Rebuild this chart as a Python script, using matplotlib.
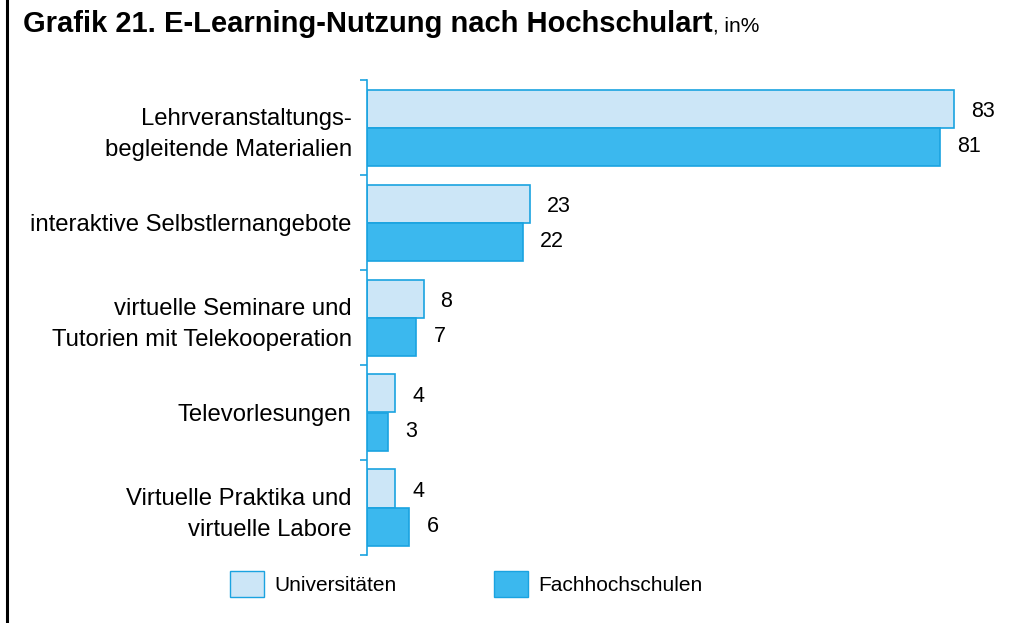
import matplotlib
matplotlib.use("Agg")
import matplotlib.pyplot as plt
from matplotlib.patches import Patch
import numpy as np

plt.rcParams['font.family'] = ['Liberation Sans', 'DejaVu Sans']

# Daten
kategorien = ["Lehrveranstaltungs-\nbegleitende Materialien",
              "interaktive Selbstlernangebote",
              "virtuelle Seminare und\nTutorien mit Telekooperation",
              "Televorlesungen",
              "Virtuelle Praktika und\nvirtuelle Labore"]
universitaeten = [83, 23, 8, 4, 4]
fachhochschulen = [81, 22, 7, 3, 6]

HELL = "#cce6f7"
DUNKEL = "#3bb8ee"
RAND = "#1aa3e0"

W, H = 1019, 623
fig = plt.figure(figsize=(W / 100, H / 100), dpi=100)
ax = fig.add_axes([367 / W, 1 - 555 / H, 1 - 367 / W, (555 - 80) / H])

y = np.arange(len(kategorien)) + 0.5
ax.barh(y - 0.2, universitaeten, height=0.4, color=HELL, edgecolor=RAND, linewidth=1.2)
ax.barh(y + 0.2, fachhochschulen, height=0.4, color=DUNKEL, edgecolor=RAND, linewidth=1.2)

for yi, u, f in zip(y, universitaeten, fachhochschulen):
    ax.text(u + 2.4, yi - 0.17, str(u), va="center", ha="left", fontsize=15.5)
    ax.text(f + 2.4, yi + 0.2, str(f), va="center", ha="left", fontsize=15.5)

ax.set_xlim(0, (W - 367) / 7.07)
ax.set_ylim(len(kategorien), 0)
ax.set_xticks([])
ax.set_yticks(np.arange(len(kategorien) + 1))
ax.set_yticklabels([])
ax.tick_params(axis="y", length=5, color=RAND, width=1.2)
ax.set_yticks(y, minor=True)
ax.set_yticklabels(kategorien, minor=True, fontsize=17.2, linespacing=1.55, ha="right")
ax.tick_params(axis="y", which="minor", length=0, pad=11)
for s in ["top", "right", "bottom"]:
    ax.spines[s].set_visible(False)
ax.spines["left"].set_color(RAND)
ax.spines["left"].set_linewidth(1.2)

# Titel
t = fig.text(23 / W, 1 - 32 / H, "Grafik 21. E-Learning-Nutzung nach Hochschulart",
             fontsize=21, fontweight="bold", va="baseline")
fig.canvas.draw()
bb = t.get_window_extent()
fig.text(bb.x1 / W, 1 - 32 / H, ", in%", fontsize=15, va="baseline")

# Rahmenlinie links
fig.add_artist(plt.Line2D([6.5 / W, 6.5 / W], [0, 1], color="black", linewidth=2.2))

handles = [Patch(facecolor=HELL, edgecolor=RAND, label="Universitäten"),
           Patch(facecolor=DUNKEL, edgecolor=RAND, label="Fachhochschulen")]
fig.legend(handles=handles, loc="center left", bbox_to_anchor=(224 / W, 1 - 584 / H),
           ncol=2, frameon=False, fontsize=15, handlelength=1.6, handleheight=1.55,
           handletextpad=0.5, columnspacing=4.7, borderpad=0.3, borderaxespad=0)

fig.savefig("out.png", dpi=100)
